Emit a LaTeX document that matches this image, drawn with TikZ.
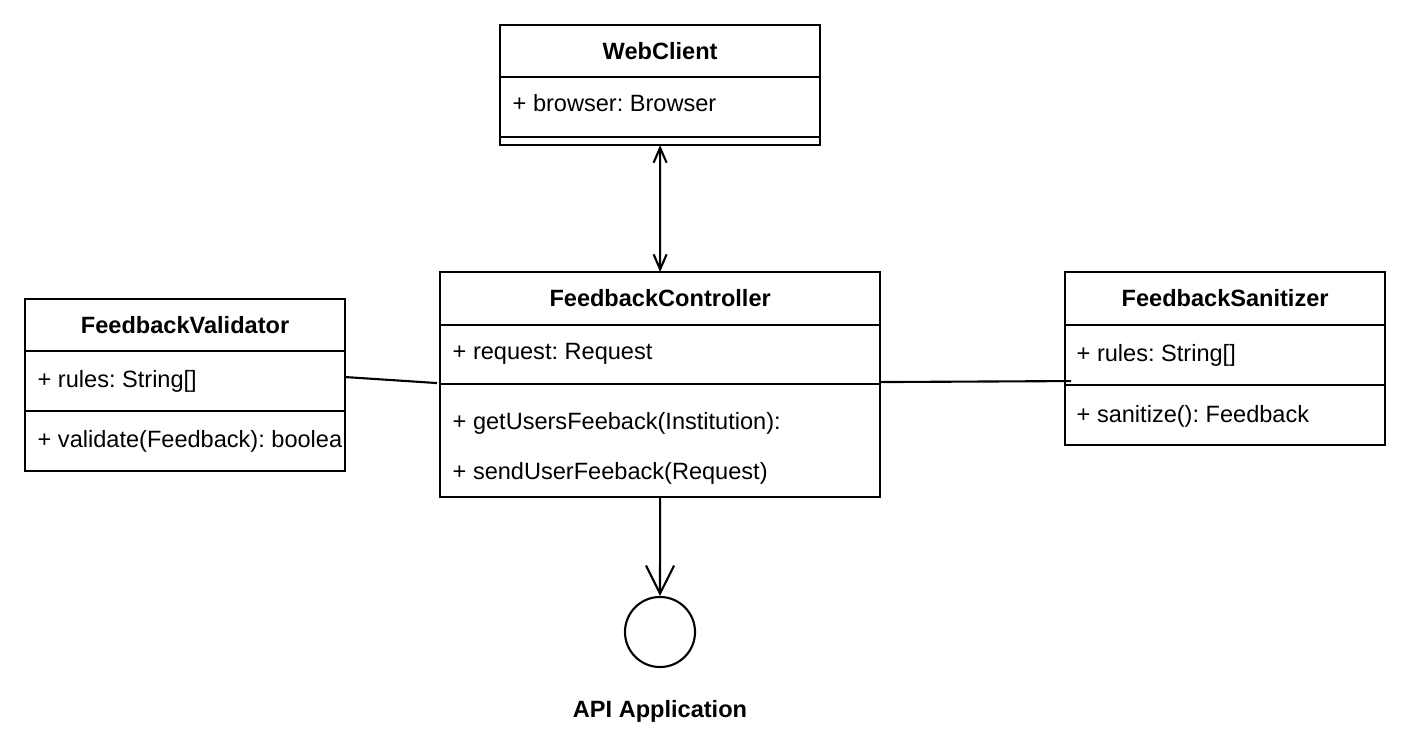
\documentclass[tikz,border=0pt]{standalone}
\usepackage{fontspec}
\setmainfont{Liberation Sans}
\frenchspacing
\usetikzlibrary{positioning, arrows.meta, calc}

\tikzset{
  classbox/.style={draw, line width=0.6pt, outer sep=0pt, inner sep=0pt, anchor=north west},
  classname/.style={font=\fontsize{6.7}{8}\selectfont\bfseries},
  member/.style={anchor=base west, inner sep=0pt, font=\fontsize{6.7}{8}\selectfont},
  link/.style={line width=0.6pt},
}

\begin{document}
\begin{tikzpicture}[x=0.01cm, y=-0.01cm]
    \useasboundingbox (0,0) rectangle (1404,740);

    % WebClient
    \node[classbox, classname, minimum width=3.2cm, minimum height=0.52cm] (client) at (500,25) {WebClient};
    \node[classbox, minimum width=3.2cm, minimum height=0.60cm] (clientattr) at (client.south west) {};
    \node[classbox, minimum width=3.2cm, minimum height=0.08cm] (clientops) at (clientattr.south west) {};
    \node[member] (clientbrowser) at (512,112) {+ browser: Browser};

    % FeedbackValidator
    \node[classbox, classname, minimum width=3.2cm, minimum height=0.52cm] (validator) at (25,299) {FeedbackValidator};
    \node[classbox, minimum width=3.2cm, minimum height=0.60cm] (validatorattr) at (validator.south west) {};
    \node[classbox, minimum width=3.2cm, minimum height=0.60cm] (validatorops) at (validatorattr.south west) {};
    \node[member] (validatorrules) at (37,387) {+ rules: String[]};
    \begin{scope}
        \clip (validatorops.north west) rectangle (validatorops.south east);
        \node[member] (validatorvalidate) at (37,447) {+ validate(Feedback): boolea};
    \end{scope}

    % FeedbackController
    \node[classbox, classname, minimum width=4.4cm, minimum height=0.53cm] (controller) at (440,272) {FeedbackController};
    \node[classbox, minimum width=4.4cm, minimum height=0.59cm] (controllerattr) at (controller.south west) {};
    \node[classbox, minimum width=4.4cm, minimum height=1.13cm] (controllerops) at (controllerattr.south west) {};
    \node[member] (controllerrequest) at (452,360) {+ request: Request};
    \node[member] (controllerget) at (452,429) {+ getUsersFeeback(Institution):};
    \node[member] (controllersend) at (452,479) {+ sendUserFeeback(Request)};

    % FeedbackSanitizer
    \node[classbox, classname, minimum width=3.2cm, minimum height=0.53cm] (sanitizer) at (1065,272) {FeedbackSanitizer};
    \node[classbox, minimum width=3.2cm, minimum height=0.60cm] (sanitizerattr) at (sanitizer.south west) {};
    \node[classbox, minimum width=3.2cm, minimum height=0.60cm] (sanitizerops) at (sanitizerattr.south west) {};
    \node[member] (sanitizerrules) at (1076,361) {+ rules: String[]};
    \node[member] (sanitizersanitize) at (1076,422) {+ sanitize(): Feedback};

    % API interface
    \node[circle, draw, line width=0.6pt, minimum size=0.70cm, inner sep=0pt] (api) at (660,632) {};
    \node[classname, anchor=base, inner sep=0pt] (apilabel) at (660,717) {API Application};

    % Connectors
    \draw[link, {Straight Barb[length=0.15cm, width=0.13cm]}-{Straight Barb[length=0.15cm, width=0.13cm]}] (clientops.south) -- (controller.north);
    \draw[link] ($(validatorattr.east)+(0,-4)$) -- ($(controllerattr.south west)+(-3,-1)$);
    \draw[link] ($(controllerattr.south east)+(0,-2)$) -- ($(sanitizerattr.south west)+(6,-4)$);
    \draw[link, -{Straight Barb[length=0.28cm, width=0.28cm]}] (controllerops.south) -- (api.north);
\end{tikzpicture}
\end{document}
